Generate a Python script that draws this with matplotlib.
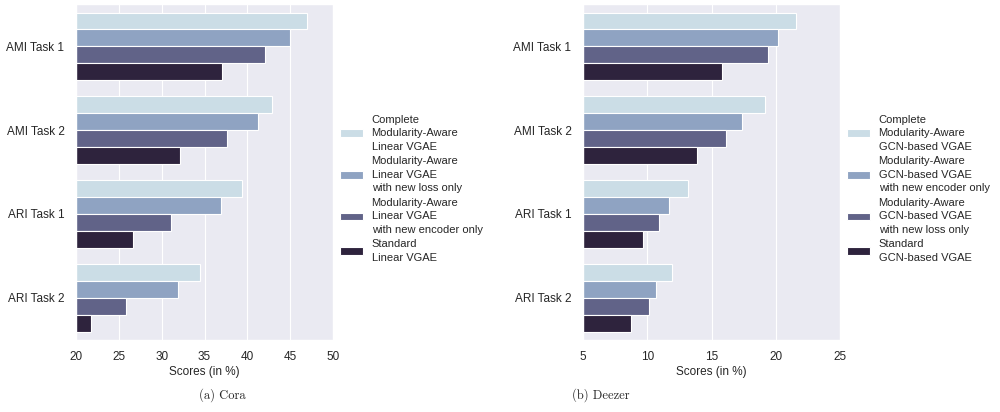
import numpy as np
import matplotlib
matplotlib.use('Agg')
import matplotlib.pyplot as plt
import seaborn as sns

# values
tasks = ['AMI Task 1', 'AMI Task 2', 'ARI Task 1', 'ARI Task 2']

cora_labels = ['Complete\nModularity-Aware\nLinear VGAE',
               'Modularity-Aware\nLinear VGAE\nwith new loss only',
               'Modularity-Aware\nLinear VGAE\nwith new encoder only',
               'Standard\nLinear VGAE']
cora_complete = [47.0, 42.9, 39.4, 34.5]
cora_loss_only = [45.0, 41.3, 36.9, 31.9]
cora_encoder_only = [42.1, 37.6, 31.1, 25.8]
cora_standard = [37.0, 32.1, 26.7, 21.7]

deezer_labels = ['Complete\nModularity-Aware\nGCN-based VGAE',
                 'Modularity-Aware\nGCN-based VGAE\nwith new encoder only',
                 'Modularity-Aware\nGCN-based VGAE\nwith new loss only',
                 'Standard\nGCN-based VGAE']
deezer_complete = [21.6, 19.2, 13.2, 11.9]
deezer_encoder_only = [20.2, 17.4, 11.7, 10.7]
deezer_loss_only = [19.4, 16.1, 10.9, 10.1]
deezer_standard = [15.8, 13.9, 9.7, 8.7]

colors = ['#cbdde6', '#8fa3c2', '#616388', '#2e233d']

sns.set_theme(style='darkgrid', context='paper')
plt.rcParams['font.family'] = ['Liberation Sans', 'DejaVu Sans']


def draw_panel(ax, series, labels, xlim, xticks):
    y = np.arange(len(tasks))
    h = 0.2
    for k, (vals, lab) in enumerate(zip(series, labels)):
        ax.barh(y - 0.3 + k * h, vals, height=h, color=colors[k],
                edgecolor='white', linewidth=0.8, label=lab)
    ax.set_xlim(*xlim)
    ax.set_ylim(3.5, -0.5)
    ax.set_yticks(y)
    ax.set_yticklabels(tasks, fontsize=8.5)
    ax.set_xticks(xticks)
    ax.tick_params(axis='x', labelsize=8.5)
    ax.yaxis.grid(False)
    ax.set_xlabel('Scores (in %)', fontsize=8.5, labelpad=2)
    leg = ax.legend(loc='center left', bbox_to_anchor=(0.99, 0.45), frameon=False,
                    fontsize=8, handlelength=2.0, labelspacing=0.4)
    for t in leg.get_texts():
        t.set_linespacing(1.45)


fig = plt.figure(figsize=(10, 4.12), dpi=100)
ax1 = fig.add_axes([0.076, 0.175, 0.257, 0.815])
ax2 = fig.add_axes([0.583, 0.175, 0.257, 0.815])

draw_panel(ax1, [cora_complete, cora_loss_only, cora_encoder_only, cora_standard],
           cora_labels, (20, 50), range(20, 51, 5))
draw_panel(ax2, [deezer_complete, deezer_encoder_only, deezer_loss_only, deezer_standard],
           deezer_labels, (5, 25), range(5, 26, 5))

fig.text(0.222, 0.042, '(a) Cora', ha='center', va='center', fontfamily='cmr10', fontsize=9)
fig.text(0.601, 0.042, '(b) Deezer', ha='center', va='center', fontfamily='cmr10', fontsize=9)

fig.savefig('out.png', dpi=100)
